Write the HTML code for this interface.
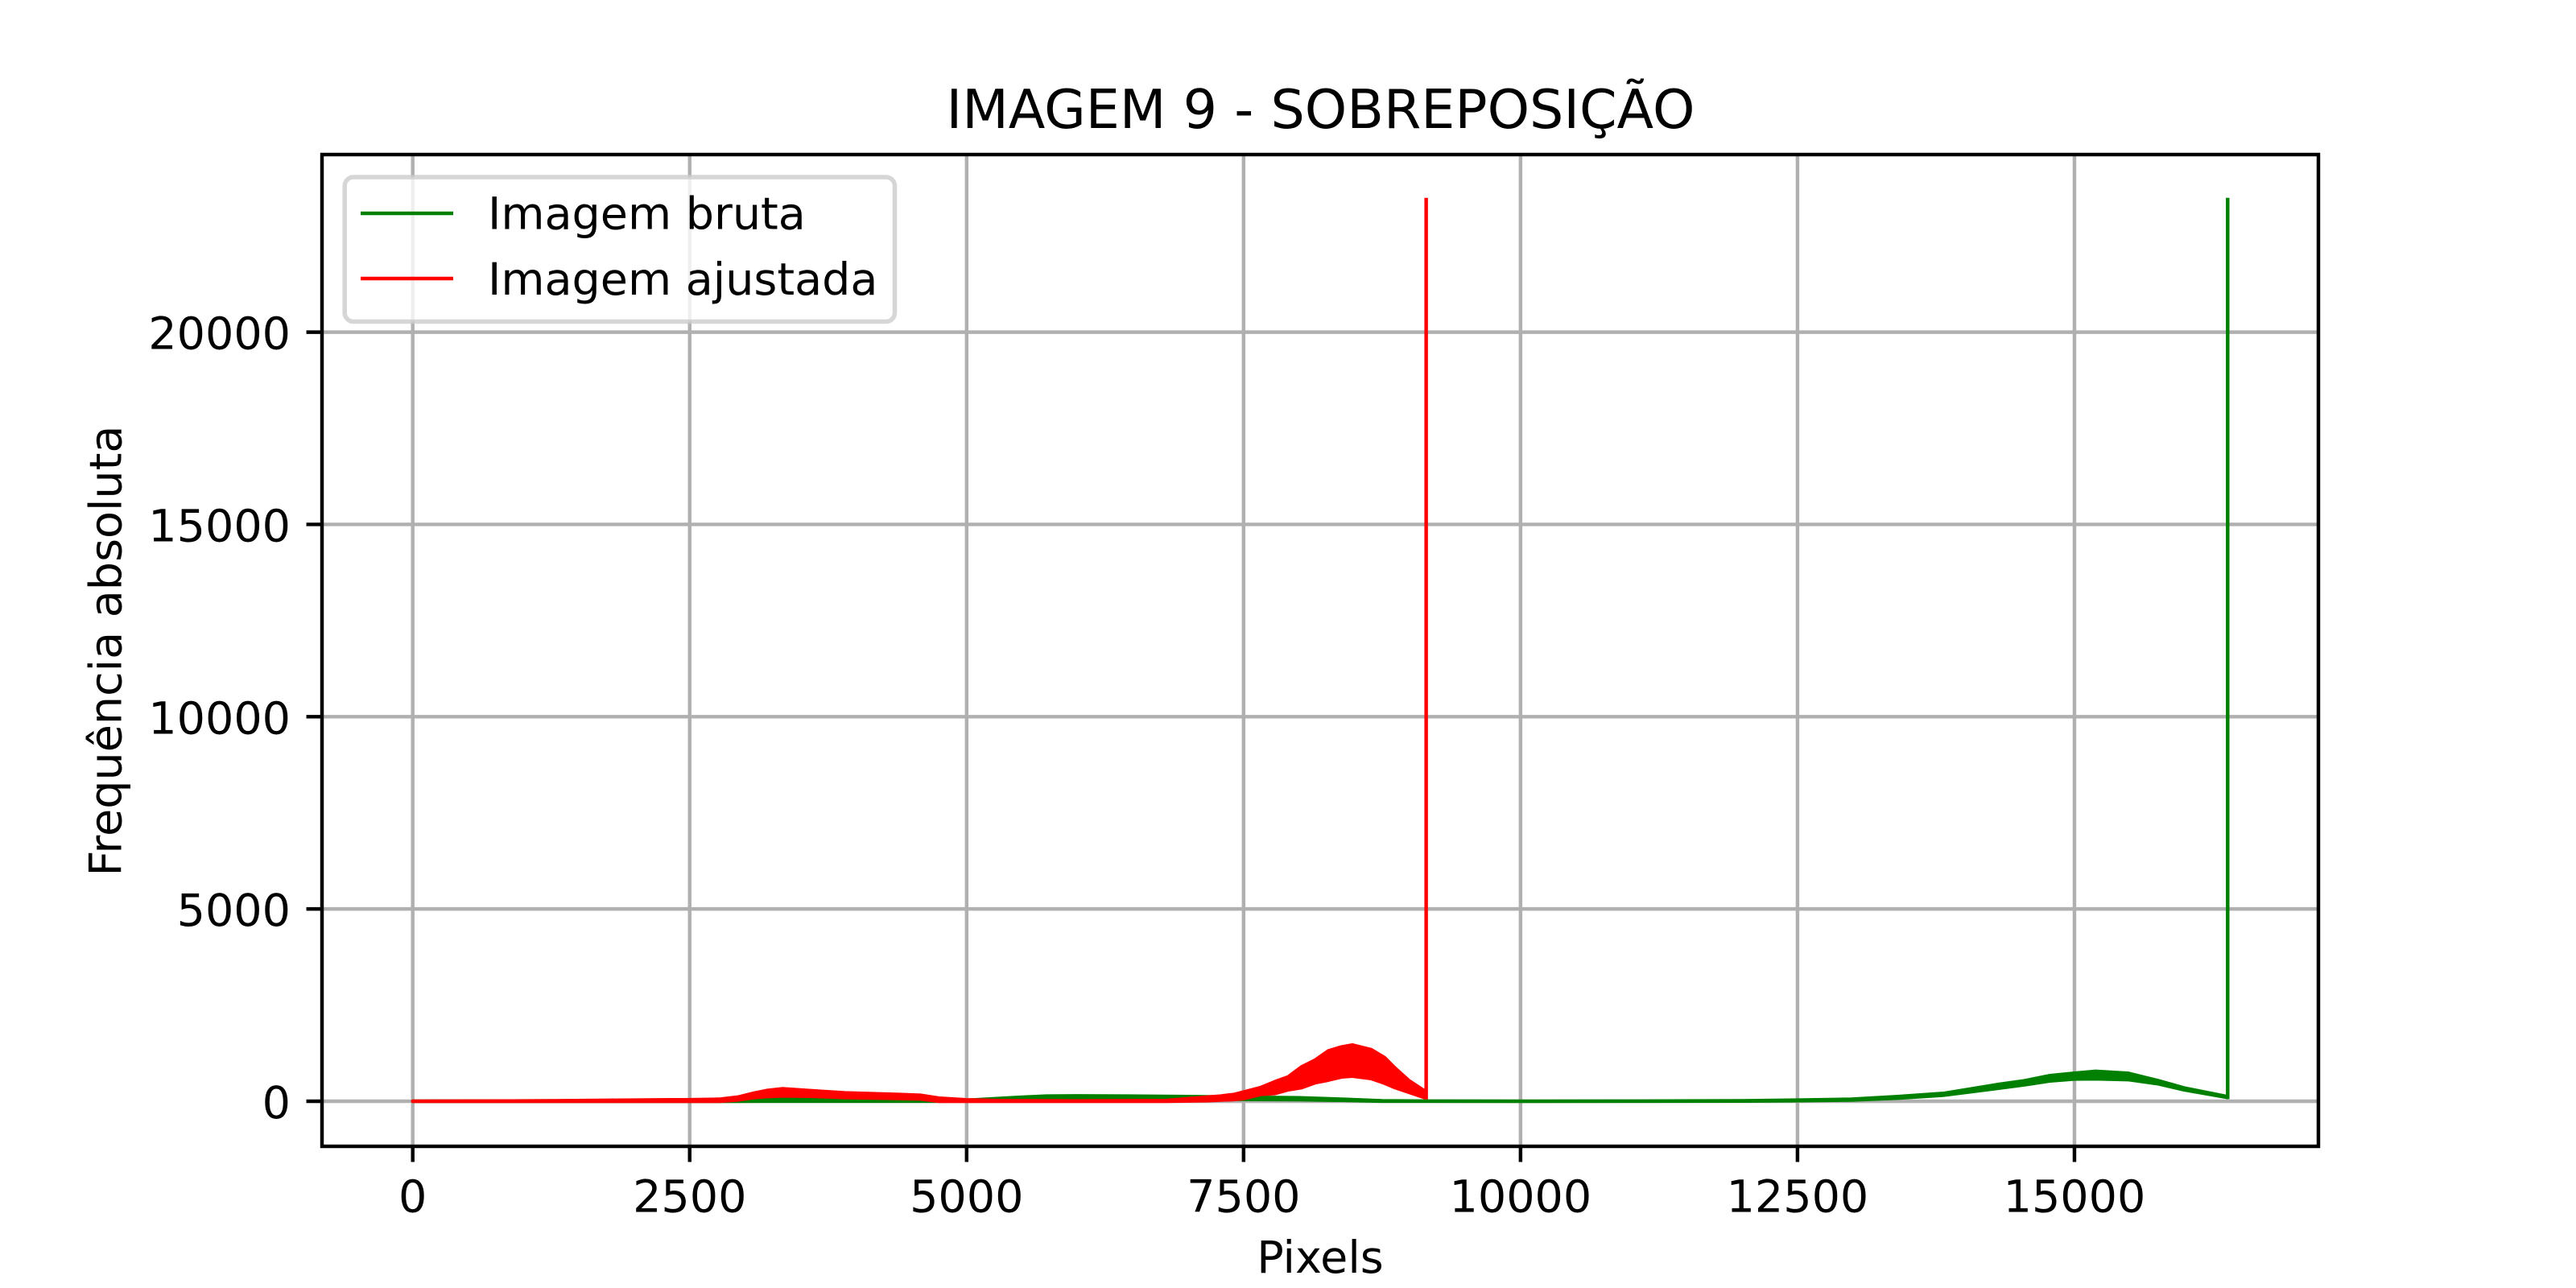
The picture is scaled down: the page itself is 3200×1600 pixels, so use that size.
<!DOCTYPE html>
<html lang="pt">
<head>
<meta charset="utf-8">
<title>IMAGEM 9 - SOBREPOSIÇÃO</title>
<style>
  html, body { margin: 0; padding: 0; background: #ffffff; }
  svg { display: block; }
  text { font-family: "DejaVu Sans", "Liberation Sans", sans-serif; fill: #000000; }
</style>
</head>
<body>
<svg id="chart" xmlns="http://www.w3.org/2000/svg" width="3200" height="1600" viewBox="0 0 3200 1600">
  <rect x="0" y="0" width="3200" height="1600" fill="#ffffff"/>
  <g id="grid"></g>
  <g id="series"></g>
  <g id="ticks"></g>
  <rect x="400" y="192" width="2480" height="1232" fill="none" stroke="#000000" stroke-width="4.44"/>
  <text x="1640.5" y="159" font-size="66.67" text-anchor="middle">IMAGEM 9 - SOBREPOSIÇÃO</text>
  <text x="1640" y="1581" font-size="55.56" text-anchor="middle">Pixels</text>
  <text transform="translate(150.5 808.5) rotate(-90)" font-size="55.56" text-anchor="middle">Frequência absoluta</text>
  <g>
    <rect x="428.2" y="220" width="683.3" height="179.5" rx="11" ry="11" fill="#ffffff" fill-opacity="0.8" stroke="#cccccc" stroke-opacity="0.8" stroke-width="5.55"/>
    <g>
      <line x1="448" y1="265" x2="563" y2="265" stroke="#008000" stroke-width="4.44"/>
      <text x="606" y="284.5" font-size="55.56">Imagem bruta</text>
    </g>
    <g>
      <line x1="448" y1="346" x2="563" y2="346" stroke="#ff0000" stroke-width="4.44"/>
      <text x="606" y="366" font-size="55.56">Imagem ajustada</text>
    </g>
  </g>
</svg>
<script>
// Tick labels
const xTickValues = [0, 2500, 5000, 7500, 10000, 12500, 15000];
const yTickValues = [0, 5000, 10000, 15000, 20000];

// Green series: "Imagem bruta" (bin, upper and lower edge of the jagged band, final saturated bin)
const greenBins = [0, 2500, 2800, 3170, 3800, 4500, 5000, 5210, 5466, 5722, 6000, 6447, 7000, 7500, 8000, 8385, 8749, 9150, 10000, 11000, 12000, 12500, 12988, 13404, 13822, 14295, 14537, 14779, 14997, 15191, 15482, 15748, 15990, 16378];
const greenUpper = [0, 15, 40, 109, 100, 90, 25, 58, 100, 135, 140, 135, 120, 105, 90, 52, 10, 3, 1, 3, 12, 30, 52, 121, 205, 429, 526, 666, 729, 778, 729, 540, 345, 121];
const greenLower = [0, 0, 0, 2, 2, 2, 5, 20, 40, 60, 70, 70, 60, 50, 40, 25, 3, 1, 0, 1, 5, 15, 32, 81, 158, 332, 423, 528, 577, 584, 563, 458, 297, 102];
const greenPeakBin = 16383;
const greenPeak = 23446;

// Red series: "Imagem ajustada"
const redBins = [0, 1280, 1761, 2317, 2451, 2766, 2935, 3081, 3202, 3335, 3589, 3904, 4389, 4582, 4752, 4994, 5300, 6000, 6800, 7174, 7295, 7416, 7501, 7658, 7780, 7901, 8022, 8143, 8264, 8385, 8482, 8651, 8772, 8869, 8990, 9136];
const redUpper = [0, 10, 24, 38, 38, 52, 107, 212, 282, 324, 275, 219, 177, 156, 80, 38, 15, 8, 20, 107, 135, 177, 240, 359, 505, 631, 889, 1064, 1308, 1413, 1462, 1343, 1134, 854, 540, 261];
const redLower = [0, 0, 0, 0, 0, 0, 32, 95, 123, 137, 130, 95, 74, 60, 0, 0, 0, 0, 0, 15, 30, 45, 70, 179, 200, 297, 353, 479, 549, 632, 653, 590, 470, 353, 234, 95];
const redPeakBin = 9148;
const redPeak = 23446;

// Axis limits
const xDomain = [-819, 17202];
const yDomain = [-1172.3, 24618.3];

const plotLeft = 400, plotRight = 2880, plotTop = 192, plotBottom = 1424;
const SVG_NS = 'http://www.w3.org/2000/svg';

function xScale(v) {
  return plotLeft + (v - xDomain[0]) / (xDomain[1] - xDomain[0]) * (plotRight - plotLeft);
}
function yScale(v) {
  return plotBottom - (v - yDomain[0]) / (yDomain[1] - yDomain[0]) * (plotBottom - plotTop);
}
function make(tag) {
  return document.createElementNS(SVG_NS, tag);
}
function setLine(el, x1, y1, x2, y2, color) {
  el.setAttribute('x1', x1);
  el.setAttribute('y1', y1);
  el.setAttribute('x2', x2);
  el.setAttribute('y2', y2);
  el.setAttribute('stroke', color);
  el.setAttribute('stroke-width', '4.44');
}

const gridGroup = document.getElementById('grid');
const tickGroup = document.getElementById('ticks');
const seriesGroup = document.getElementById('series');

xTickValues.forEach(function (v) {
  const x = xScale(v);
  const g = make('line');
  
  
  setLine(g, x, plotTop, x, plotBottom, '#b0b0b0');
  gridGroup.appendChild(g);

  const t = make('line');
  
  
  setLine(t, x, plotBottom, x, plotBottom + 19.44, '#000000');
  tickGroup.appendChild(t);

  const label = make('text');
  
  
  label.setAttribute('x', x);
  label.setAttribute('y', 1505.5);
  label.setAttribute('font-size', '55.56');
  label.setAttribute('text-anchor', 'middle');
  label.textContent = String(v);
  tickGroup.appendChild(label);
});

yTickValues.forEach(function (v) {
  const y = yScale(v);
  const g = make('line');
  
  
  setLine(g, plotLeft, y, plotRight, y, '#b0b0b0');
  gridGroup.appendChild(g);

  const t = make('line');
  
  
  setLine(t, plotLeft - 19.44, y, plotLeft, y, '#000000');
  tickGroup.appendChild(t);

  const label = make('text');
  
  
  label.setAttribute('x', 361);
  label.setAttribute('y', y + 21);
  label.setAttribute('font-size', '55.56');
  label.setAttribute('text-anchor', 'end');
  label.textContent = String(v);
  tickGroup.appendChild(label);
});

function bandPath(bins, upper, lower) {
  let d = '';
  bins.forEach(function (b, i) {
    d += (i === 0 ? 'M' : 'L') + xScale(b).toFixed(2) + ' ' + yScale(upper[i]).toFixed(2);
  });
  for (let i = bins.length - 1; i >= 0; i--) {
    d += 'L' + xScale(bins[i]).toFixed(2) + ' ' + yScale(lower[i]).toFixed(2);
  }
  return d + 'Z';
}
function drawBand(bins, upper, lower, color, parent) {
  const p = make('path');
  p.setAttribute('d', bandPath(bins, upper, lower));
  p.setAttribute('fill', color);
  p.setAttribute('stroke', color);
  p.setAttribute('stroke-width', '4.44');
  p.setAttribute('stroke-linejoin', 'round');
  parent.appendChild(p);
  return p;
}
function drawSpike(lastBin, lastValue, peakBin, peak, color, parent) {
  const s = make('polyline');
  s.setAttribute('points',
    xScale(lastBin).toFixed(2) + ',' + yScale(lastValue).toFixed(2) + ' ' +
    xScale(peakBin).toFixed(2) + ',' + yScale(peak).toFixed(2));
  s.setAttribute('fill', 'none');
  s.setAttribute('stroke', color);
  s.setAttribute('stroke-width', '4.44');
  s.setAttribute('stroke-linecap', 'square');
  parent.appendChild(s);
  return s;
}

const greenBand = drawBand(greenBins, greenUpper, greenLower, '#008000', seriesGroup);



const greenSpike = drawSpike(greenPeakBin, greenLower[greenLower.length - 1], greenPeakBin, greenPeak, '#008000', seriesGroup);



const redBand = drawBand(redBins, redUpper, redLower, '#ff0000', seriesGroup);



const redSpike = drawSpike(redPeakBin, redLower[redLower.length - 1], redPeakBin, redPeak, '#ff0000', seriesGroup);


</script>
</body>
</html>
